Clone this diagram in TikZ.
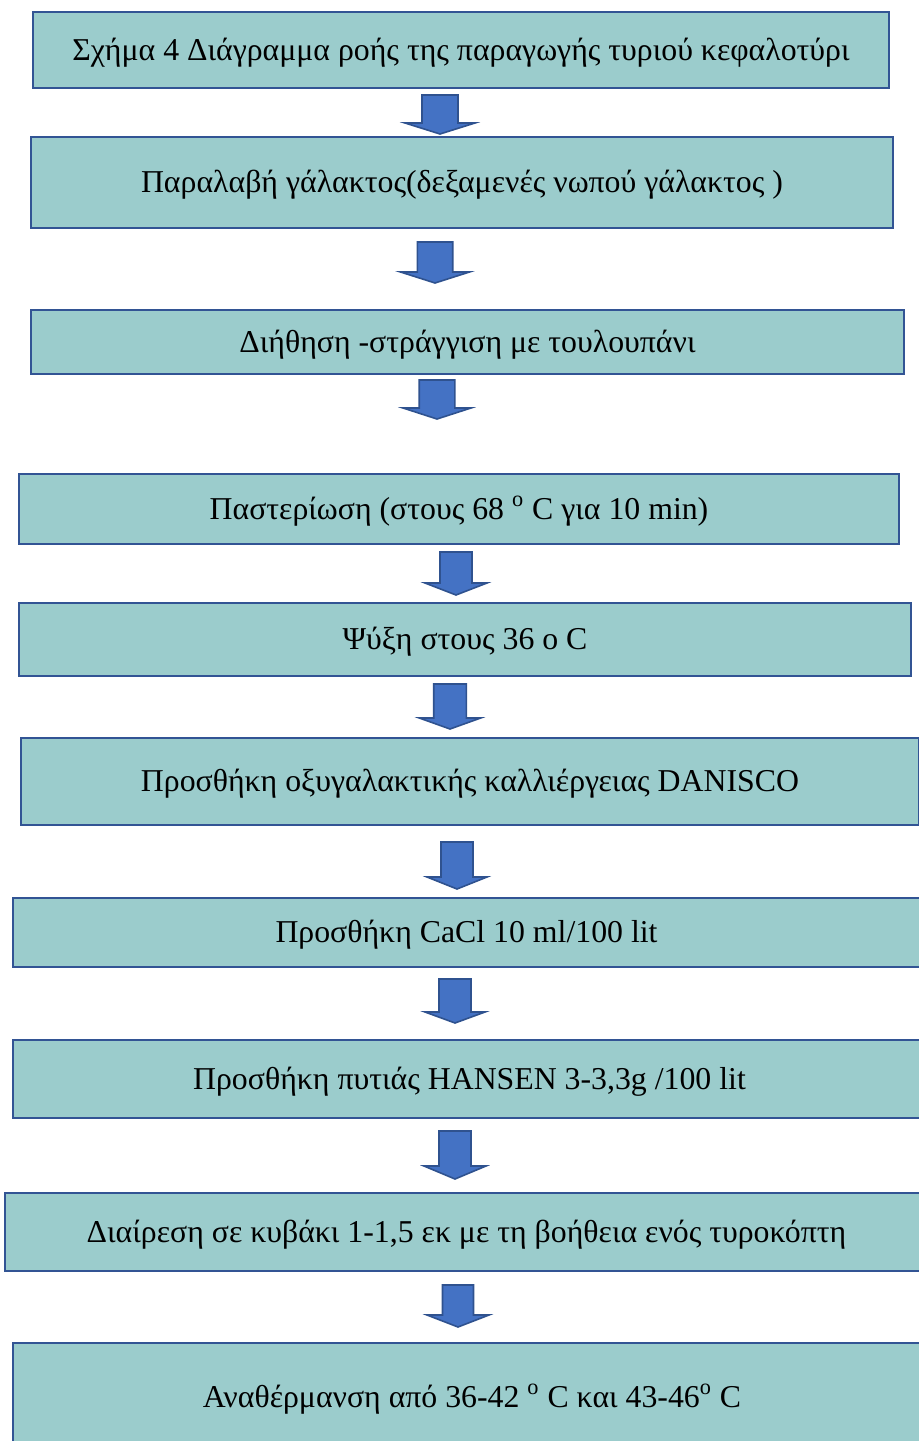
\documentclass[tikz,border=0pt]{standalone}
\usepackage{fontspec}
\setmainfont{Liberation Serif}
\definecolor{boxfill}{RGB}{155,204,204}
\definecolor{boxline}{RGB}{50,84,148}
\definecolor{arrowfill}{RGB}{68,114,196}
\definecolor{arrowline}{RGB}{47,82,143}
\tikzset{
  stepbox/.style={draw=boxline, fill=boxfill, line width=1.3pt, inner sep=0pt,
    text height=1.2em, text depth=0.2em,
    font=\fontsize{15.9}{18}\selectfont, text=black},
  blockarrow/.style={fill=arrowfill, draw=arrowline, line width=0.8pt, line join=miter}
}
% block arrow: centre x, top, neck, tip, half shaft width, half head width
\newcommand\flowarrow[6]{%
  \draw[blockarrow] (#1-#5,#2) -- (#1+#5,#2) -- (#1+#5,#3) -- (#1+#6,#3)
    -- (#1,#4) -- (#1-#6,#3) -- (#1-#5,#3) -- cycle;}
\begin{document}
\begin{tikzpicture}[x=0.5pt,y=-0.5pt]
\useasboundingbox (0,0) rectangle (918,1441);
\node[stepbox, minimum width=428pt, minimum height=38pt] (s1) at (461,50)
  {Σχήμα 4 Διάγραμμα ροής της παραγωγής τυριού κεφαλοτύρι};
\node[stepbox, minimum width=431pt, minimum height=45.5pt] (s2) at (462,182.5)
  {Παραλαβή γάλακτος(δεξαμενές νωπού γάλακτος )};
\node[stepbox, minimum width=436.5pt, minimum height=32pt] (s3) at (467.5,342)
  {Διήθηση -στράγγιση με τουλουπάνι};
\node[stepbox, minimum width=440pt, minimum height=35pt] (s4) at (459,509)
  {Παστερίωση (στους 68 \textsuperscript{o} C για 10 min)};
\node[stepbox, minimum width=446pt, minimum height=36.5pt] (s5) at (465,639.5)
  {Ψύξη στους 36 ο C};
\node[stepbox, minimum width=449pt, minimum height=43.5pt] (s6) at (470,781.5)
  {Προσθήκη οξυγαλακτικής καλλιέργειας DANISCO};
\node[stepbox, minimum width=453.5pt, minimum height=34.5pt] (s7) at (466.5,932.5)
  {Προσθήκη CaCl 10 ml/100 lit};
\node[stepbox, minimum width=456.5pt, minimum height=39pt] (s8) at (469.5,1079)
  {Προσθήκη πυτιάς HANSEN 3-3,3g /100 lit};
\node[stepbox, minimum width=461.5pt, minimum height=39pt] (s9) at (466.5,1232)
  {Διαίρεση σε κυβάκι 1-1,5 εκ με τη βοήθεια ενός τυροκόπτη};
\node[stepbox, minimum width=459pt, minimum height=54pt] (s10) at (472,1397)
  {Αναθέρμανση από 36-42 \textsuperscript{o} C και 43-46\textsuperscript{o} C};
% arrows between the steps
\flowarrow{440}{95}{123}{134}{18}{35}
\flowarrow{435}{242}{272}{283}{17.7}{34.5}
\flowarrow{437}{380}{408}{419}{17.8}{34}
\flowarrow{456}{552}{583}{595}{16}{31}
\flowarrow{450}{684}{718}{729}{16.3}{30.7}
\flowarrow{457}{842}{877}{889}{16}{30}
\flowarrow{455}{979}{1012}{1023}{16}{30}
\flowarrow{455}{1131}{1166}{1179}{16}{31}
\flowarrow{458}{1285}{1315}{1327}{15.5}{31}
\end{tikzpicture}
\end{document}
